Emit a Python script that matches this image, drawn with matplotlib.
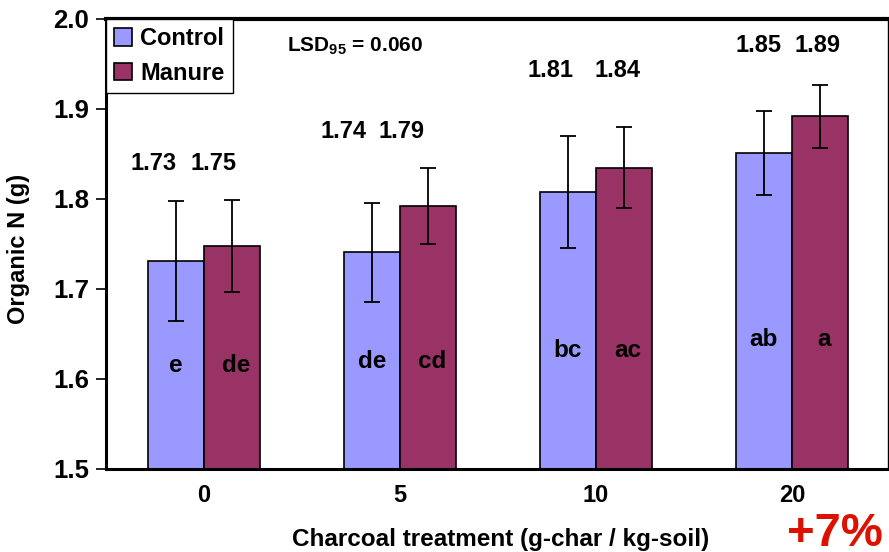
import matplotlib
matplotlib.use("Agg")
import matplotlib.pyplot as plt
import numpy as np

# ---- data ----
categories = ["0", "5", "10", "20"]
control = [1.731, 1.741, 1.808, 1.851]
manure = [1.748, 1.792, 1.835, 1.892]
control_err = [0.067, 0.055, 0.062, 0.047]
manure_err = [0.051, 0.042, 0.045, 0.035]
control_labels = ["1.73", "1.74", "1.81", "1.85"]
manure_labels = ["1.75", "1.79", "1.84", "1.89"]
control_letters = ["e", "de", "bc", "ab"]
manure_letters = ["de", "cd", "ac", "a"]
series_names = ["Control", "Manure"]
lsd_text = r"LSD$_{\mathbf{95}}$ = 0.060"
increase_text = "+7%"
xlabel = "Charcoal treatment (g-char / kg-soil)"
ylabel = "Organic N (g)"

# ---- style / positions ----
c_control = "#9999FF"
c_manure = "#993366"
bw = 0.287
value_label_y = [1.840, 1.875, 1.943, 1.971]
ctrl_lab_dx = [-0.255, -0.286, -0.230, -0.173]
man_lab_dx = [0.046, 0.010, 0.112, 0.128]
letter_y = [1.615, 1.620, 1.632, 1.644]

plt.rcParams['font.family'] = ['Liberation Sans', 'DejaVu Sans']
plt.rcParams['font.weight'] = 'bold'
plt.rcParams['mathtext.fontset'] = 'custom'
plt.rcParams['mathtext.rm'] = 'Liberation Sans'
plt.rcParams['mathtext.bf'] = 'Liberation Sans:bold'

fig = plt.figure(figsize=(8.89, 5.52), dpi=100)
ax = fig.add_axes([106/889, 1-469/552, 782/889, 450/552])

x = np.arange(len(categories))
ax.bar(x - bw/2, control, bw, color=c_control, edgecolor='black', linewidth=1.2,
       label=series_names[0], zorder=2)
ax.bar(x + bw/2, manure, bw, color=c_manure, edgecolor='black', linewidth=1.2,
       label=series_names[1], zorder=2)
ax.errorbar(x - bw/2, control, yerr=control_err, fmt='none', ecolor='black',
            elinewidth=1.3, capsize=5.5, capthick=1.3, zorder=3)
ax.errorbar(x + bw/2, manure, yerr=manure_err, fmt='none', ecolor='black',
            elinewidth=1.3, capsize=5.5, capthick=1.3, zorder=3)

for i in range(len(categories)):
    ax.text(x[i] + ctrl_lab_dx[i], value_label_y[i], control_labels[i],
            ha='center', va='center', fontsize=17, fontweight='bold')
    ax.text(x[i] + man_lab_dx[i], value_label_y[i], manure_labels[i],
            ha='center', va='center', fontsize=17, fontweight='bold')
    ax.text(x[i] - bw/2, letter_y[i], control_letters[i],
            ha='center', va='center', fontsize=17.5, fontweight='bold', zorder=4)
    ax.text(x[i] + bw/2 + 0.02, letter_y[i], manure_letters[i],
            ha='center', va='center', fontsize=17.5, fontweight='bold', zorder=4)

ax.text(0.423, 1.970, lsd_text, ha='left', va='center', fontsize=15,
        fontweight='bold')

ax.set_xlim(-0.5, 3.49)
ax.set_ylim(1.5, 2.0)
ax.set_yticks(np.arange(1.5, 2.01, 0.1))
ax.set_yticklabels([f"{v:.1f}" for v in np.arange(1.5, 2.01, 0.1)])
ax.set_xticks(x)
ax.set_xticklabels(categories)
ax.tick_params(axis='y', direction='out', length=7, width=1.2, labelsize=18.5, pad=5)
ax.tick_params(axis='x', length=0, labelsize=17, pad=11)
for lab in ax.get_xticklabels() + ax.get_yticklabels():
    lab.set_fontweight('bold')

ax.spines['left'].set_linewidth(2.2)
ax.spines['bottom'].set_linewidth(2.2)
ax.spines['top'].set_linewidth(3)
ax.spines['right'].set_linewidth(1)

ax.set_xlabel(xlabel, fontsize=17.5, fontweight='bold')
ax.xaxis.set_label_coords(0.504, -0.131)
ax.set_ylabel(ylabel, fontsize=17, fontweight='bold')
ax.yaxis.set_label_coords(-0.097, 0.489)

leg = ax.legend(loc='upper left', bbox_to_anchor=(0, 1), borderaxespad=0,
                fancybox=False, framealpha=1, edgecolor='black',
                prop={'size': 17, 'weight': 'bold'}, handlelength=0.75,
                handleheight=0.75, handletextpad=0.35, labelspacing=0.5,
                borderpad=0.35)
leg.get_frame().set_linewidth(1.0)
leg.set_zorder(10)

fig.text(835/889, 1-546/552, increase_text, ha='center', va='baseline',
         fontsize=34, fontweight='bold', color='#DD1100')

fig.savefig("out.png", dpi=100)
